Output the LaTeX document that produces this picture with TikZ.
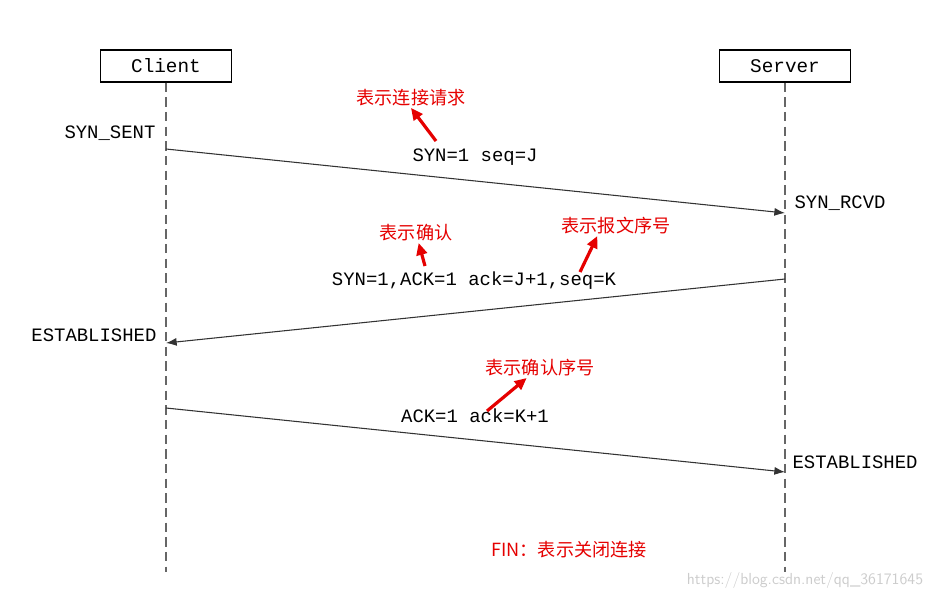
\documentclass[tikz,border=0pt]{standalone}
\usepackage{fontspec}
\setmainfont{Liberation Mono}
\newfontfamily\cjk{Noto Sans CJK SC}
\usetikzlibrary{arrows.meta}
\tikzset{
	party/.style={draw,thick,minimum width=98pt,minimum height=24pt,inner sep=0pt,font=\fontsize{14.5pt}{16pt}\selectfont},
	life/.style={dashed,thick,gray!80!black,dash pattern=on 7pt off 4pt},
	msg/.style={-{Latex[length=8pt,width=6pt]},thick,black!80},
	lbl/.style={font=\fontsize{14.2pt}{16pt}\selectfont,inner sep=1pt},
	note/.style={red!90!black,font=\cjk\fontsize{13.6pt}{15pt}\selectfont,inner sep=1pt},
	hint/.style={-{Triangle[length=9pt,width=8pt]},line width=2.4pt,red!90!black}
}
\begin{document}
\begin{tikzpicture}[x=0.75pt,y=-0.75pt]
	\useasboundingbox (0,0) rectangle (937,600);
	
	% parties
	\node [party] (client) at (166,66) {Client};
	\node [party] (server) at (785,66) {Server};
	\coordinate (cend) at (166,572);
	\coordinate (send) at (785,572);
	\draw [life] (client.south) -- (cend);
	\draw [life] (server.south) -- (send);
	
	% points on lifelines
	\coordinate (c1) at (166,149);
	\coordinate (s1) at (785,213);
	\coordinate (s2) at (785,279);
	\coordinate (c2) at (166,343);
	\coordinate (c3) at (166,408);
	\coordinate (s3) at (785,472);
	
	% states
	\node [lbl,anchor=east] (synsent) at (157,133) {SYN\_SENT};
	\node [lbl,anchor=west] (synrcvd) at (793,203) {SYN\_RCVD};
	\node [lbl,anchor=east] (estc) at (158,335) {ESTABLISHED};
	\node [lbl,anchor=west] (ests) at (791,462) {ESTABLISHED};
	
	% messages
	\draw [msg] (c1) -- (s1);
	\node [lbl] (m1) at (475,157) {SYN=1 seq=J};
	\draw [msg] (s2) -- (c2);
	\node [lbl] (m2) at (474,281) {SYN=1,ACK=1 ack=J+1,seq=K};
	\draw [msg] (c3) -- (s3);
	\node [lbl] (m3) at (475,416) {ACK=1 ack=K+1};
	
	% notes
	\node [note] (n1) at (411,98) {表示连接请求};
	\coordinate (a1) at (436,141);
	\draw [hint] (a1) -- (n1.south);
	\node [note] (n2) at (416,233) {表示确认};
	\coordinate (a2) at (425,266);
	\draw [hint] (a2) -- ([xshift=2pt]n2.south);
	\node [note] (n3) at (616,226) {表示报文序号};
	\coordinate (a3) at (580,272);
	\draw [hint] (a3) -- ([xshift=-14pt]n3.south);
	\node [note] (n4) at (540,368) {表示确认序号};
	\coordinate (a4) at (487,411);
	\draw [hint] (a4) -- ([xshift=-10pt]n4.south);
	\node [note] (fin) at (569,550) {FIN：表示关闭连接};
	
	% watermark
	\node [gray!40,font=\sffamily\fontsize{12pt}{14pt}\selectfont] (wm) at (805,580) {https://blog.csdn.net/qq\_36171645};
\end{tikzpicture}
\end{document}
